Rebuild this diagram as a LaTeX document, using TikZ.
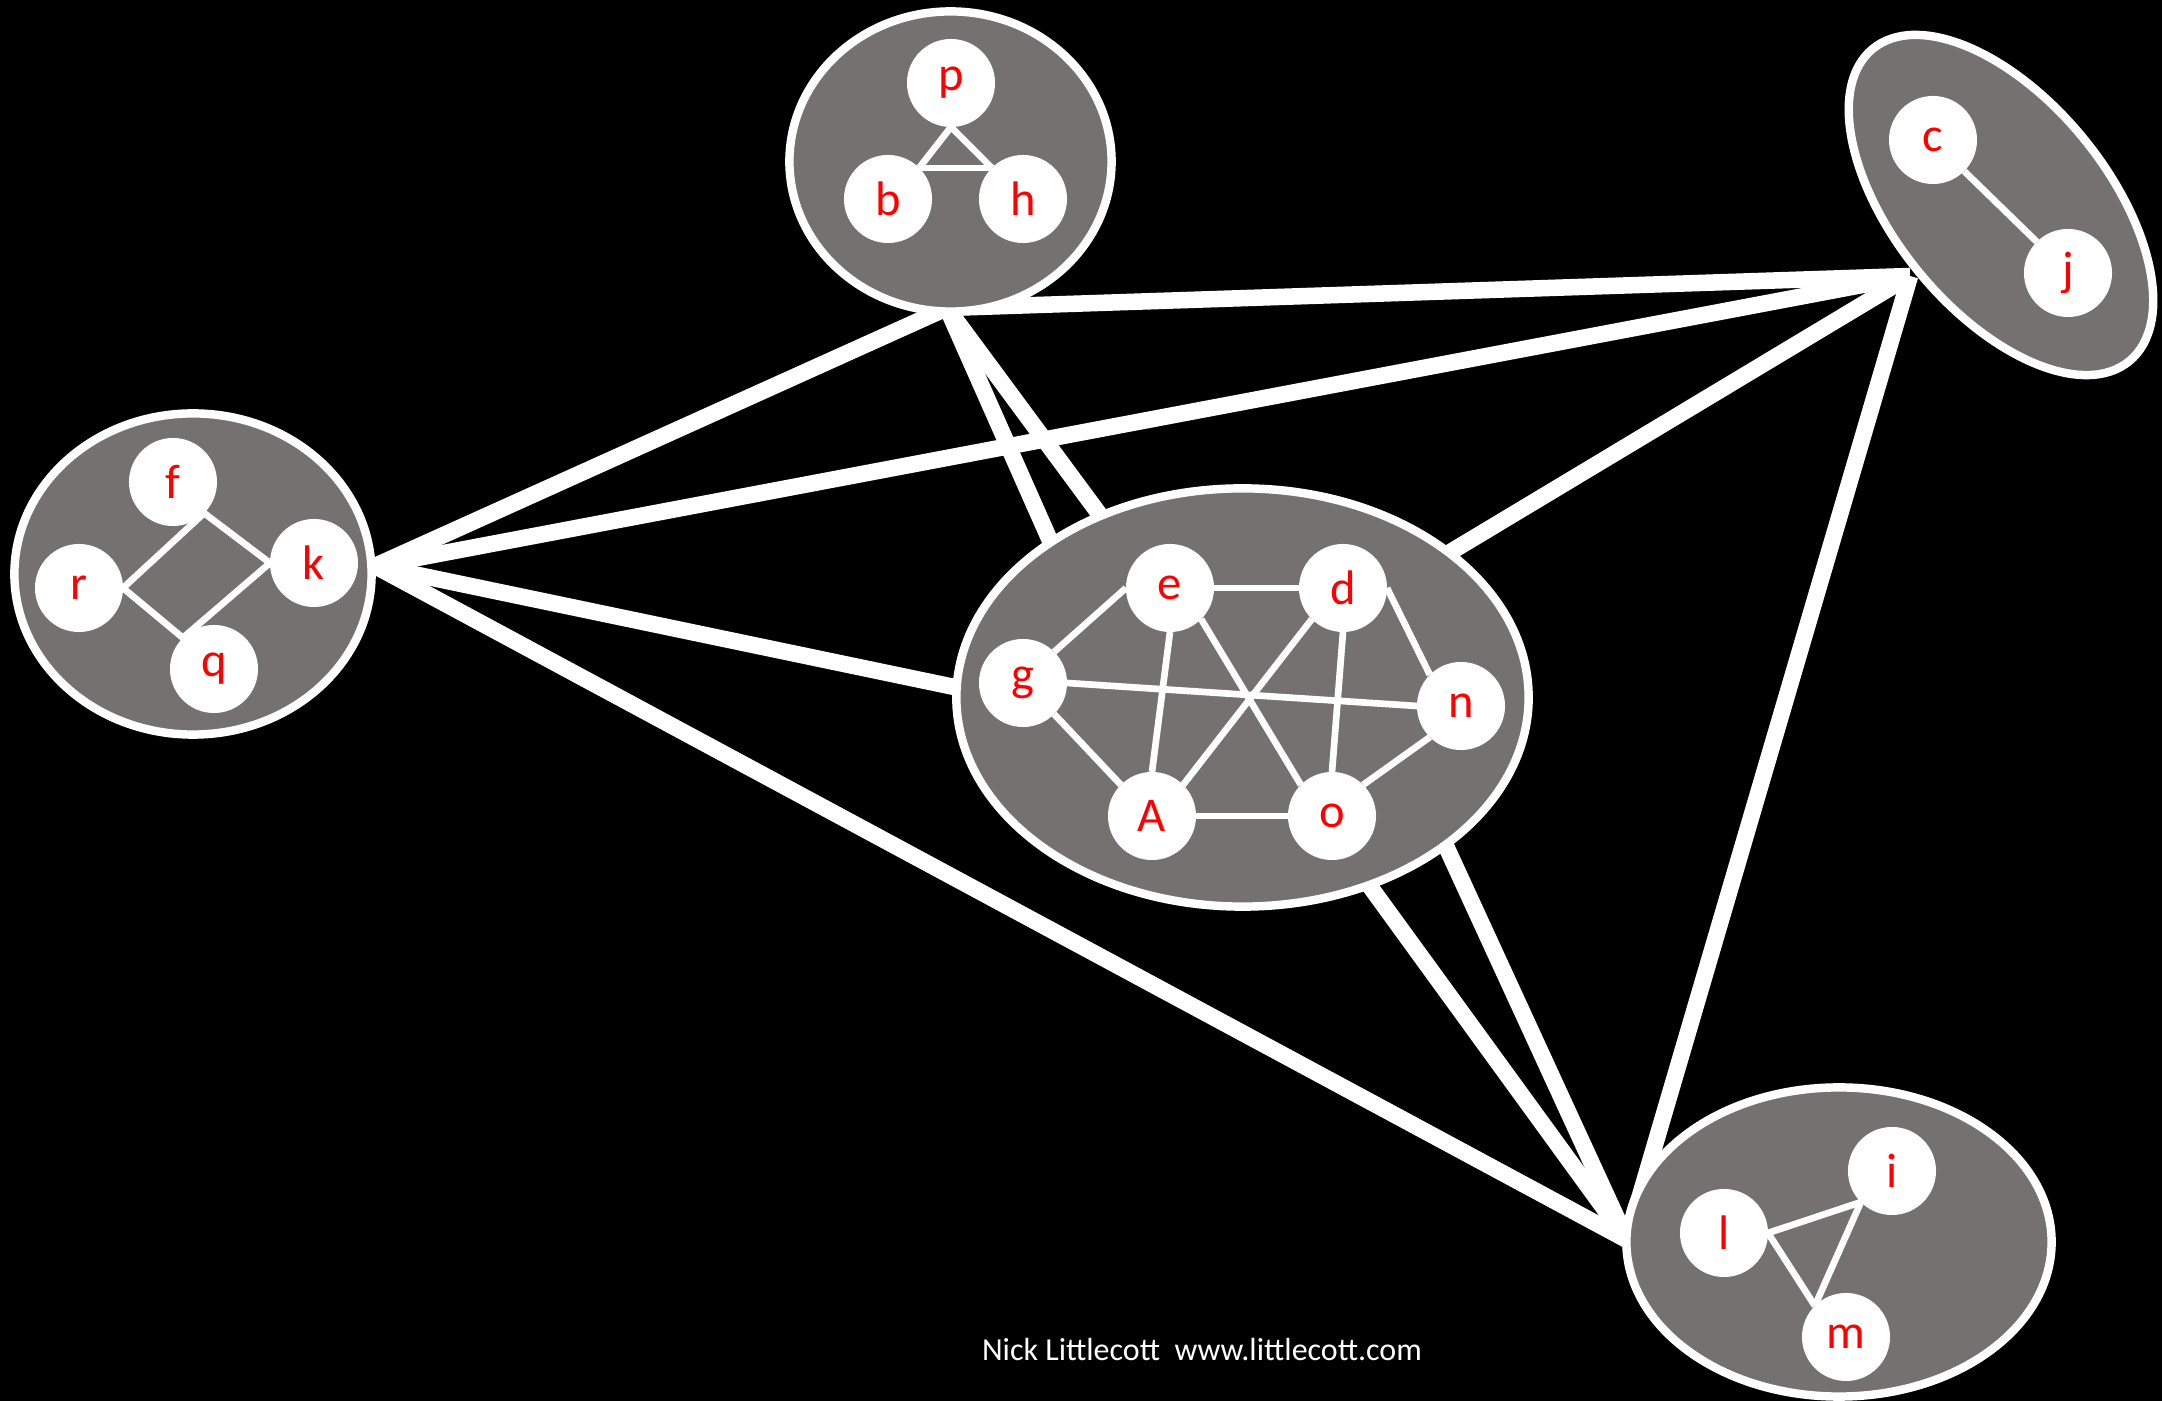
\documentclass[tikz,border=0pt]{standalone}
\usepackage{fontspec}
\setmainfont{Carlito}
\usetikzlibrary{shapes.geometric}
\pgfdeclarelayer{back}
\pgfsetlayers{back,main}
\definecolor{grpgray}{RGB}{118,113,113}
\tikzset{
  grpshape/.style={ellipse, draw=white, line width=2.4pt, fill=grpgray, inner sep=0pt, outer sep=0pt},
  vtx/.style={circle, fill=white, minimum size=0.88cm, inner sep=0pt, outer sep=0pt, text=red, font=\fontsize{13.8}{15}\selectfont},
  link/.style={draw=white, line width=1.9pt},
  bond/.style={draw=white, line width=4.7pt},
}
\begin{document}
\begin{tikzpicture}[x=0.01cm, y=-0.01cm]
\begin{pgfonlayer}{back}
\fill[black] (0,0) rectangle (2162,1401);
\end{pgfonlayer}
\useasboundingbox (0,0) rectangle (2162,1401);

% groups
\node[grpshape, minimum width=3.22cm, minimum height=3.00cm] (GP) at (950.5,161.5) {};
\node[grpshape, minimum width=4.04cm, minimum height=2.12cm, rotate=-50.6] (GC) at (2001,205) {};
\node[grpshape, minimum width=3.57cm, minimum height=3.21cm] (GK) at (193,574) {};
\node[grpshape, minimum width=5.72cm, minimum height=4.18cm] (GG) at (1242.5,697.5) {};
\node[grpshape, minimum width=4.25cm, minimum height=3.09cm] (GL) at (1839,1242) {};

% hubs
\coordinate (hP) at (947,308);
\coordinate (hC) at (1910,276);
\coordinate (hK) at (375,566);
\coordinate (hL) at (1627,1240);

\begin{pgfonlayer}{back}
\draw[bond] (hP) -- (hC);
\draw[bond] (hP) -- (hK);
\draw[bond] (hP) -- (GG.141.6);
\draw[bond] (hP) -- (GG.128.5);
\draw[bond] (hK) -- (hC);
\draw[bond] (hK) -- (GG.178);
\draw[bond] (hK) -- (hL);
\draw[bond] (hC) -- (GG.35.3);
\draw[bond] (hC) -- (hL);
\draw[bond] (GG.-56.5) -- (hL);
\draw[bond] (GG.-36.2) -- (hL);
\end{pgfonlayer}

% group P
\node[vtx] (p) at (951,83) {p};
\node[vtx] (b) at (888,199) {b};
\node[vtx] (h) at (1023,199) {h};
\draw[link] (p.south) -- (b.north east);
\draw[link] (b.north east) -- (h.north west);
\draw[link] (h.north west) -- (p.south);

% group C
\node[vtx] (c) at (1933,140) {c};
\node[vtx] (j) at (2068,273) {j};
\draw[link] (c.south east) -- (j.north west);

% group K
\node[vtx] (f) at (173,482) {f};
\node[vtx] (r) at (79,588) {r};
\node[vtx] (k) at (314,563) {k};
\node[vtx] (q) at (214,669) {q};
\draw[link] (r.east) -- (f.south east);
\draw[link] (f.south east) -- (k.west);
\draw[link] (k.west) -- (q.north west);
\draw[link] (q.north west) -- (r.east);

% central group
\node[vtx] (e) at (1170,588) {e};
\node[vtx] (d) at (1343,588) {d};
\node[vtx] (g) at (1023,683) {g};
\node[vtx] (n) at (1461,706) {n};
\node[vtx] (A) at (1152,816) {A};
\node[vtx] (o) at (1332,816) {o};
\draw[link] (g.north east) -- (e.west);
\draw[link] (e.east) -- (d.west);
\draw[link] (d.east) -- (n.north west);
\draw[link] (g.east) -- (n.west);
\draw[link] (g.south east) -- (A.north west);
\draw[link] (e.south) -- (A.north);
\draw[link] (e.south east) -- (o.north west);
\draw[link] (d.south west) -- (A.north east);
\draw[link] (d.south) -- (o.north);
\draw[link] (A.east) -- (o.west);
\draw[link] (n.south west) -- (o.north east);

% group L
\node[vtx] (l) at (1724,1233) {l};
\node[vtx] (i) at (1892,1171) {i};
\node[vtx] (m) at (1846,1337) {m};
\draw[link] (l.east) -- (i.south west);
\draw[link] (l.east) -- (m.north west);
\draw[link] (i.south west) -- (m.north west);

% credit
\node[text=white, font=\fontsize{9.1}{11}\selectfont] (credit) at (1202,1350) {Nick Littlecott~ www.littlecott.com};
\end{tikzpicture}
\end{document}
